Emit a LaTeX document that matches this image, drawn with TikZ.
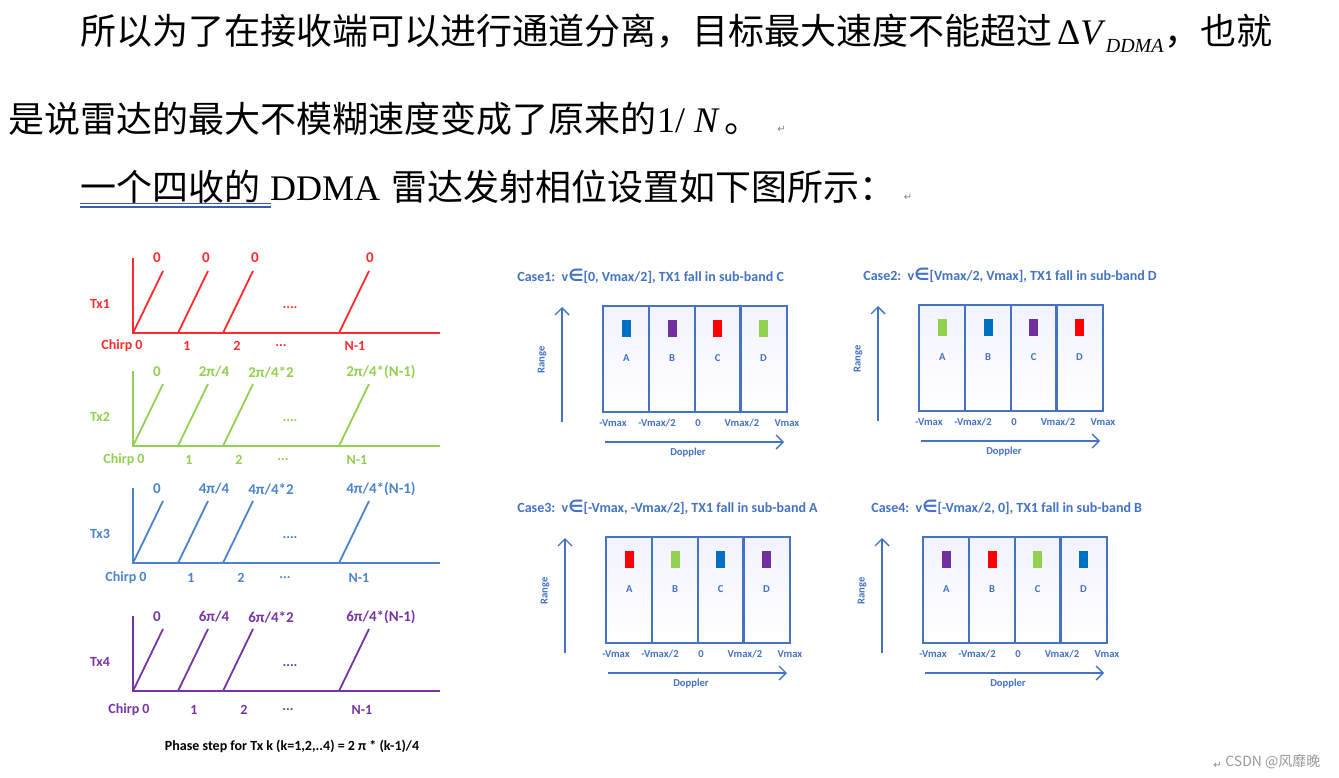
\documentclass[tikz,border=0pt]{standalone}
\usepackage{fontspec}
\setmainfont{Liberation Serif}
\newfontfamily\cjkfont{Noto Sans CJK SC}
\newfontfamily\figfont{Carlito}
\newfontfamily\symfont{DejaVu Sans}
\usetikzlibrary{arrows.meta, calc}
\definecolor{txred}{HTML}{FF2B2B}
\definecolor{txgreen}{HTML}{92D050}
\definecolor{txblue}{HTML}{4A84CE}
\definecolor{txpurple}{HTML}{7634A6}
\definecolor{panelblue}{HTML}{4472C4}
\definecolor{barblue}{HTML}{0070C0}
\definecolor{barpurple}{HTML}{7030A0}
\definecolor{barred}{HTML}{FF0000}
\definecolor{bargreen}{HTML}{92D050}
\definecolor{ulblue}{HTML}{3A5DB0}
\newcommand{\vin}{v{\fontsize{8.5}{8}\selectfont\symfont ∈}}

\begin{document}
\begin{tikzpicture}[x=0.5pt, y=-0.5pt,
    body/.style={inner sep=0pt, anchor=base west, font=\fontsize{18}{18}\selectfont\cjkfont},
    retmark/.style={inner sep=0pt, anchor=base west, text=gray, font=\fontsize{5}{5}\selectfont\symfont},
    uline/.style={ulblue, line width=0.6pt},
    chirpline/.style={line width=0.9pt},
    txlab/.style={inner sep=0pt, font=\fontsize{7}{7}\selectfont\figfont\bfseries},
    phlab/.style={inner sep=0pt, font=\fontsize{7.5}{7.5}\selectfont\figfont\bfseries},
    casetitle/.style={inner sep=0pt, anchor=west, text=panelblue, font=\fontsize{7}{7}\selectfont\figfont\bfseries},
    bandbox/.style={top color=blue!5!white, bottom color=white,
                    minimum width=22.875pt, minimum height=52.5pt, inner sep=0pt, anchor=north west},
    bandline/.style={draw=panelblue, line width=0.9pt},
    sigbar/.style={minimum width=4.5pt, minimum height=8.5pt, inner sep=0pt, anchor=north},
    panlab/.style={inner sep=0pt, text=panelblue, font=\fontsize{5.3}{5.3}\selectfont\figfont\bfseries},
    axarrow/.style={panelblue, line width=0.7pt, -{Straight Barb[length=3.5pt, width=7pt]}},
]
    \path[fill=white, use as bounding box] (0,0) rectangle (1339,777);

    % Text lines above the figure
    \node[body] (l1a) at (80,44) {所以为了在接收端可以进行通道分离，目标最大速度不能超过};
    \node[body] (l1b) at ([xshift=2pt]l1a.base east)
        {\rmfamily Δ\textit{V}\raisebox{-4pt}{\fontsize{10}{10}\selectfont\itshape DDMA}};
    \node[body] (l1c) at (l1b.base east) {，也就};

    \node[body] (l2a) at (8,132) {是说雷达的最大不模糊速度变成了原来的};
    \node[body] (l2b) at (l2a.base east) {\rmfamily 1/ \textit{N}};
    \node[body] (l2c) at ([xshift=2pt]l2b.base east) {。};
    \node[retmark] (r2) at ([xshift=8pt]l2c.base east) {↵};

    \node[body] (l3a) at (80,200) {一个四收的};
    \node[body] (l3b) at (l3a.base east) {\rmfamily\ DDMA\hspace*{5pt}};
    \node[body] (l3c) at (l3b.base east) {雷达发射相位设置如下图所示：};
    \node[retmark] (r3) at ([xshift=4pt]l3c.base east) {↵};
    \draw[uline] ([yshift=-1.75pt]l3a.base west) -- ([yshift=-1.75pt, xshift=5pt]l3a.base east);
    \draw[uline] ([yshift=-3.5pt]l3a.base west) -- ([yshift=-3.5pt, xshift=5pt]l3a.base east);

    % Chirp trains of the four transmitters
    \foreach \ax/\col/\k/\dx/\dy in {333/txred/1/0/13, 446/txgreen/2/2/14, 563/txblue/3/4/15, 691/txpurple/4/7/19}{
        \draw[chirpline, color=\col] (133,\ax-75) -- (133,\ax) -- (440,\ax);
        \foreach \s in {0,45,90,206}
            \draw[chirpline, color=\col] (133+\s,\ax) -- ++(30,-62);
        \node[txlab, text=\col] (tx\k) at (100,\ax-29) {Tx\k};
        \node[txlab, text=\col] (mid\k) at (290,\ax-25) {....};
        \node[txlab, text=\col] (c\k-0) at (122+\dx,\ax+\dy) {Chirp 0};
        \node[txlab, text=\col] (c\k-1) at (187+\dx,\ax+\dy) {1};
        \node[txlab, text=\col] (c\k-2) at (237+\dx,\ax+\dy) {2};
        \node[txlab, text=\col] (c\k-3) at (281+\dx,\ax+\dy) {...};
        \node[txlab, text=\col] (c\k-4) at (355+\dx,\ax+\dy) {N-1};
    }
    % phase labels
    \foreach \px [count=\m] in {157,206,255,370}
        \node[phlab, text=txred] (p1-\m) at (\px,258) {0};
    \foreach \py/\ph/\col/\k in {372/2/txgreen/2, 489/4/txblue/3, 617/6/txpurple/4}{
        \node[phlab, text=\col] (p\k-1) at (157,\py) {0};
        \node[phlab, text=\col] (p\k-2) at (214,\py) {\ph π/4};
        \node[phlab, text=\col] (p\k-3) at (271,\py) {\ph π/4*2};
        \node[phlab, text=\col] (p\k-4) at (381,\py) {\ph π/4*(N-1)};
    }
    \node[txlab, font=\fontsize{7}{7}\selectfont\figfont\bfseries] (cap) at (292,746)
        {Phase step for Tx k (k=1,2,..4) = 2 π * (k-1)/4};

    % Doppler sub-band cases
    \foreach \bx/\by/\tx/\ttl/\colA/\colB/\colC/\colD [count=\cs] in {
        603/306/-86/{Case1:\ \ \vin[0, Vmax/2], TX1 fall in sub-band C}/barblue/barpurple/barred/bargreen,
        919/305/-56/{Case2:\ \ \vin[Vmax/2, Vmax], TX1 fall in sub-band D}/bargreen/barblue/barpurple/barred,
        606/537/-89/{Case3:\ \ \vin[-Vmax, -Vmax/2], TX1 fall in sub-band A}/barred/bargreen/barblue/barpurple,
        923/537/-52/{Case4:\ \ \vin[-Vmax/2, 0], TX1 fall in sub-band B}/barpurple/barred/bargreen/barblue}{
        \begin{scope}[shift={(\bx,\by)}]
            \node[casetitle] (t\cs) at (\tx,-30) {\ttl};
            \foreach \bc/\lt [count=\j from 0] in {\colA/A, \colB/B, \colC/C, \colD/D}{
                \node[bandbox] (s\cs\lt) at (\j*45.75,0) {};
                \node[sigbar, fill=\bc] (g\cs\lt) at ([yshift=-7pt]s\cs\lt.north) {};
                \node[panlab] (n\cs\lt) at ([yshift=-26pt]s\cs\lt.north) {\lt};
            }
            \foreach \lt in {A,B,C,D}
                \draw[bandline] (s\cs\lt.north west) rectangle (s\cs\lt.south east);
            \foreach \vx/\vt [count=\m] in {10/-Vmax, 54/{-Vmax/2}, 95/0, 139/{Vmax/2}, 184/Vmax}
                \node[panlab] (v\cs-\m) at (\vx,117) {\vt};
            \coordinate (rb\cs) at (-41,116);
            \coordinate (rt\cs) at (-41,1);
            \draw[axarrow] (rb\cs) -- (rt\cs);
            \node[panlab, rotate=90] (rl\cs) at (-61,54) {Range};
            \coordinate (dl\cs) at (2,136);
            \coordinate (dr\cs) at (181,136);
            \draw[axarrow] (dl\cs) -- (dr\cs);
            \node[panlab] (dp\cs) at (85,147) {Doppler};
        \end{scope}
    }

    % watermark
    \node[retmark] (r4) at (1213,768) {↵};
    \node[inner sep=0pt, anchor=west, text=gray!80, font=\fontsize{7}{7}\selectfont\cjkfont] (wm) at (1225,762) {CSDN @风靡晚};
\end{tikzpicture}
\end{document}
